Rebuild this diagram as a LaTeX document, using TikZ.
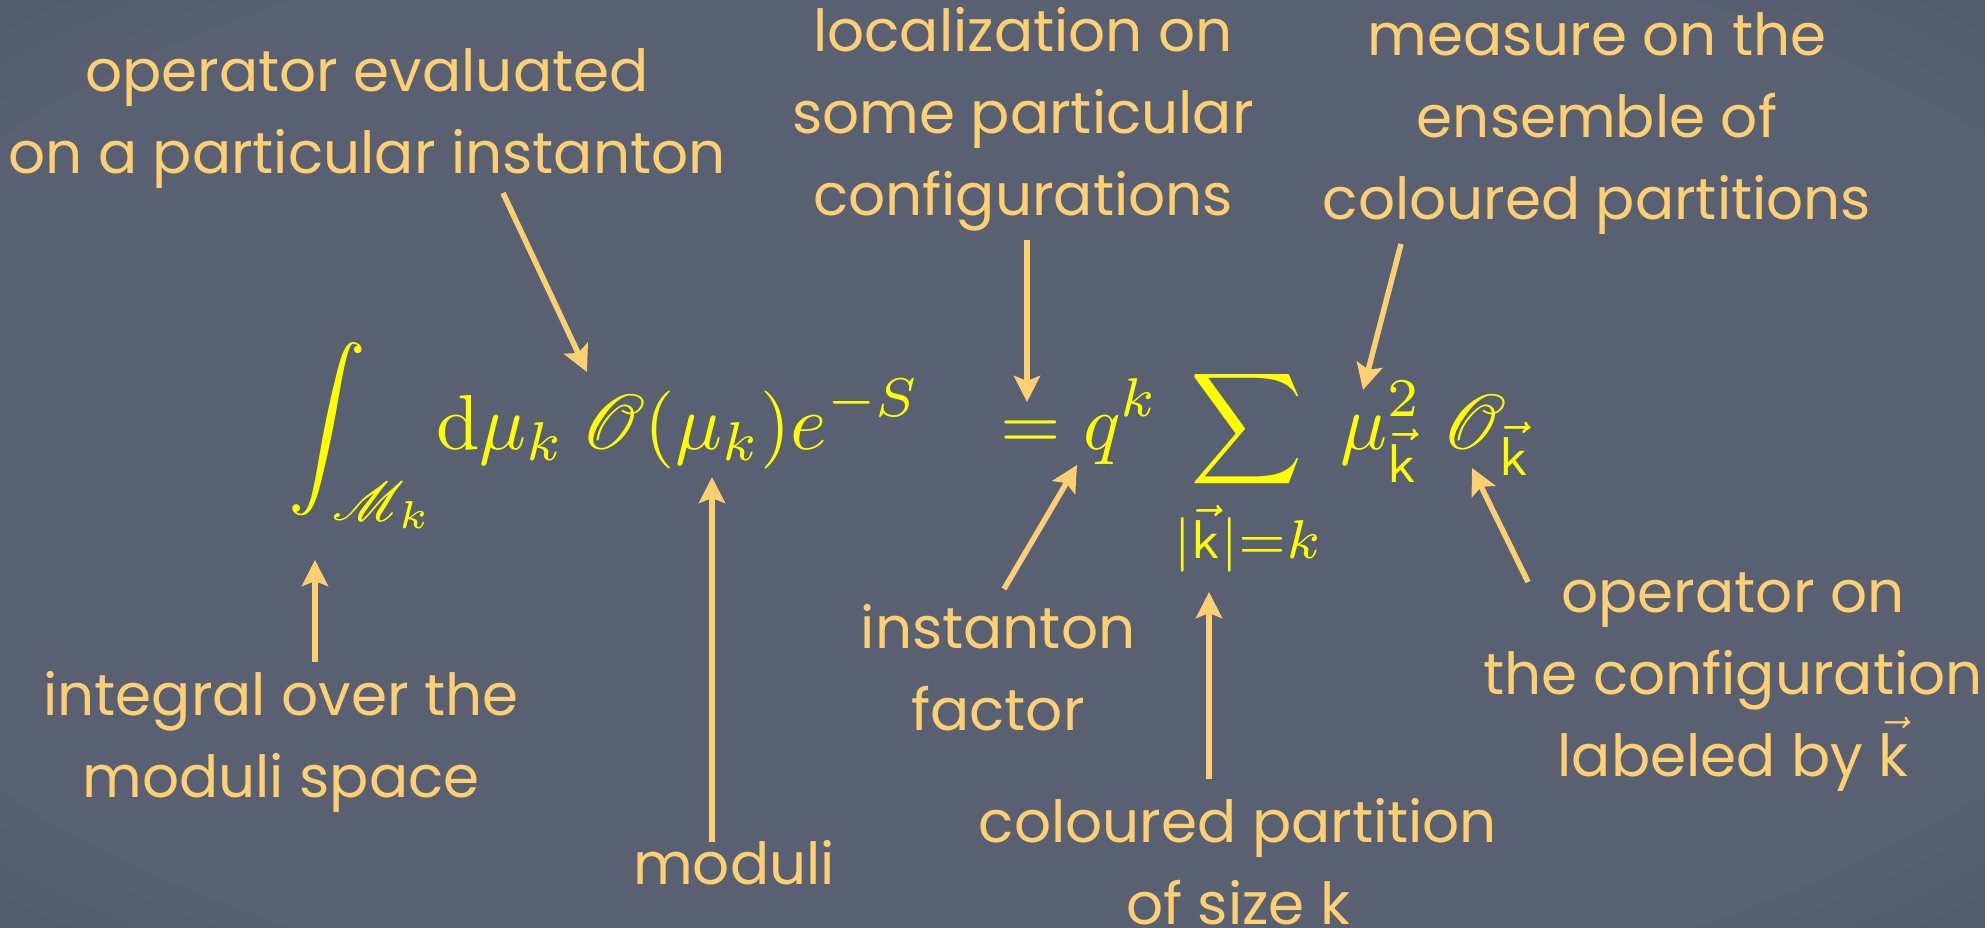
\documentclass[tikz,border=0pt]{standalone}
\usepackage{amsmath}
\usepackage{mathrsfs}
\usepackage{graphicx}
\usepackage{fontspec}
\newfontfamily\chalk{Poppins}
\usetikzlibrary{arrows.meta}
\definecolor{labelc}{RGB}{255,207,115}
\definecolor{mathc}{RGB}{255,255,0}
\definecolor{bgin}{RGB}{88,96,113}
\definecolor{bgout}{RGB}{58,63,78}
\pgfdeclareradialshading{chalkboard}{\pgfpoint{0bp}{0bp}}{color(0bp)=(bgin); color(30bp)=(bgin); color(71bp)=(bgout)}
\newcommand{\vk}{\vec{\mathsf{k}}}
\newcommand{\fml}[1]{\scalebox{7.8}{$\displaystyle #1$}}
\newcommand{\txtvk}{\scalebox{5.8}{\fontsize{10}{12}\selectfont$\vec{\hbox{k}}$}}
\begin{document}
\begin{tikzpicture}[x=1pt,y=-1pt,
  lbl/.style={text=labelc, font=\chalk\fontsize{58}{82}\selectfont, align=center, inner sep=0pt},
  fm/.style={text=mathc, inner sep=0pt, outer sep=0pt},
  arr/.style={draw=labelc, line width=5.5pt, -{Stealth[length=26pt,width=26pt,inset=5pt]}}]
\useasboundingbox (0,0) rectangle (1985,927);
\shade[shading=chalkboard] (0,0) rectangle (1985,927);

% formula
\node[fm, anchor=base west] (intg) at (288,449) {\fml{\int_{\mathscr M_k}}};
\node[fm, anchor=base west] (dmu) at (436,449) {\fml{\mathrm d\mu_k}};
\node[fm, anchor=base west] (Omu) at (581,449) {\fml{\mathscr O(\mu_k)e^{-S}}};
\node[fm, anchor=base west] (eq) at (1000,449) {\fml{=}};
\node[fm, anchor=base west] (qk) at (1083,449) {\fml{q^k}};
\node[fm, anchor=base] (sum) at (1247,449) {\fml{\sum_{|\vk|=k}}};
\node[fm, anchor=base west] (muk) at (1340,449) {\fml{\mu^2_{\vk}}};
\node[fm, anchor=base west] (Ok) at (1442,449) {\fml{\mathscr O_{\vk}}};

% labels
\node[lbl] (l1) at (367,119) {operator evaluated\\on a particular instanton};
\node[lbl] (l2) at (1023,119) {localization on\\some particular\\configurations};
\node[lbl] (l3) at (1597,124) {measure on the\\ensemble of\\coloured partitions};
\node[lbl] (l4) at (281,742) {integral over the\\moduli space};
\node[lbl] (l5) at (734,863) {moduli};
\node[lbl] (l6) at (998,668) {instanton\\factor};
\node[lbl] (l7) at (1238,862) {coloured partition\\of size k};
\node[lbl] (l8) at (1733,682) {operator on\\the configuration\\labeled by \txtvk};

% arrow ends
\coordinate (a1s) at (315,662); \coordinate (a1e) at (315,560);
\coordinate (a2s) at (503,193); \coordinate (a2e) at (587,372);
\coordinate (a3s) at (712,842); \coordinate (a3e) at (712,477);
\coordinate (a4s) at (1027,240); \coordinate (a4e) at (1027,402);
\coordinate (a5s) at (1004,589); \coordinate (a5e) at (1077,465);
\coordinate (a6s) at (1209,779); \coordinate (a6e) at (1209,592);
\coordinate (a7s) at (1401,244); \coordinate (a7e) at (1363,390);
\coordinate (a8s) at (1528,582); \coordinate (a8e) at (1472,468);

\draw[arr] (a1s) -- (a1e);
\draw[arr] (a2s) -- (a2e);
\draw[arr] (a3s) -- (a3e);
\draw[arr] (a4s) -- (a4e);
\draw[arr] (a5s) -- (a5e);
\draw[arr] (a6s) -- (a6e);
\draw[arr] (a7s) -- (a7e);
\draw[arr] (a8s) -- (a8e);
\end{tikzpicture}
\end{document}
